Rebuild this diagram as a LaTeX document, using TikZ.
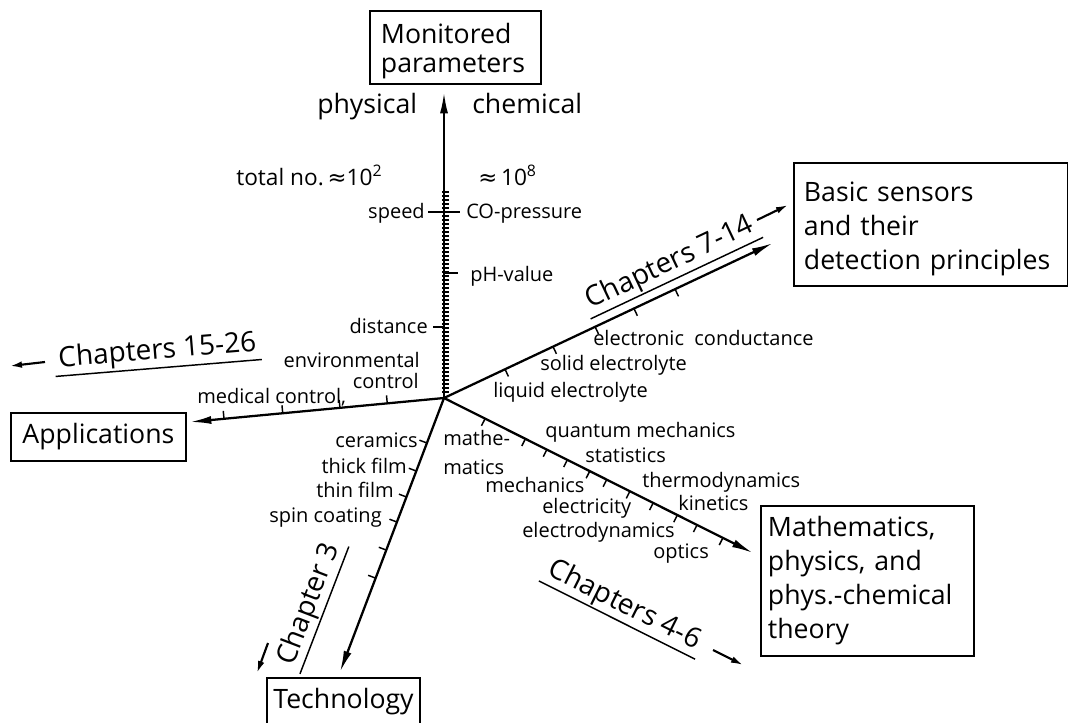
\documentclass[tikz,border=0pt]{standalone}
\usepackage{fontspec}
\setmainfont{Open Sans}
\newfontfamily\symfont{DejaVu Sans}
\usetikzlibrary{arrows.meta,calc}
\newcommand{\apx}{{\symfont ≈}}
\begin{document}
\begin{tikzpicture}[x=0.75pt,y=-0.75pt,
  axis/.style={line width=1.7pt,-{Latex[length=16pt,width=6pt]}},
  tk/.style={line width=1.1pt},
  finetick/.style={line width=0.8pt},
  box/.style={draw,line width=1.4pt,inner ysep=0pt},
  big/.style={font=\fontsize{20}{25.5}\selectfont},
  mid/.style={font=\fontsize{17}{20}\selectfont,inner sep=0pt},
  lab/.style={font=\fontsize{15}{19}\selectfont,inner sep=0pt},
  chap/.style={font=\fontsize{21}{24}\selectfont,inner xsep=3pt,inner ysep=1.5pt},
  uline/.style={line width=1.1pt},
  smallarrow/.style={line width=1.6pt,-{Latex[length=9pt,width=5pt]}},
]
\useasboundingbox (0,0) rectangle (1068,722);
\clip (0,0) rectangle (1068,722);
\fill[white] (0,0) rectangle (1068,722);

% boxes
\node[box,anchor=north west,minimum width=128.25pt,minimum height=54.75pt,
  text width=111.75pt,inner xsep=8.25pt,align=left,
  font=\fontsize{20}{22}\selectfont] (mon) at (369,10) {\rule{0pt}{21pt}Monitored\\parameters};
\node[box,big,anchor=north west,minimum width=205.5pt,minimum height=92.25pt,
  text width=190.5pt,inner xsep=7.5pt,align=left] (sens) at (793,162)
  {\rule{0pt}{22pt}Basic sensors\\and their\\detection principles};
\node[box,big,anchor=north west,minimum width=131.25pt,minimum height=36pt,
  inner xsep=0pt] (app) at (10,412) {Applications};
\node[box,big,anchor=north west,minimum width=159.75pt,minimum height=112.5pt,
  text width=149.25pt,inner xsep=5.25pt,align=left] (math) at (760,505)
  {Mathematics,\\physics, and\\phys.-chemical\\theory};
\node[box,big,anchor=north,minimum width=114.75pt,text height=23.25pt,
  text depth=15pt,inner xsep=0pt] (tech) at (343.5,677) {Technology};

% axes
\coordinate (O) at (444,398);
\coordinate (tU) at (444,92);
\coordinate (tA) at (190,422);
\coordinate (tS) at (773,243);
\coordinate (tM) at (753,553);
\coordinate (tT) at (340,672);
\draw[axis] (O) -- (tU);
\draw[axis] (O) -- (tA);
\draw[axis] (O) -- (tS);
\draw[axis] (O) -- (tM);
\draw[axis] (O) -- (tT);

% ticks
\foreach \y in {192,196,...,392} \draw[finetick] (442,\y) -- (449,\y);
\draw[tk] (428,212) -- (460,212);
\draw[tk] (444,273) -- (458,273);
\draw[tk] (433,327) -- (444,327);
\foreach \d in {42.75,78.4,121.5,165.75} {
  \coordinate (p) at ($(O)!\d pt!(tA)$);
  \draw[tk] (p) -- ($(p)!6pt!-90:(tA)$);}
\foreach \d in {50.6,90.4,125.3,157.5,191.6} {
  \coordinate (p) at ($(O)!\d pt!(tS)$);
  \draw[tk] (p) -- ($(p)!6pt!-90:(tS)$);}
\foreach \d in {34.5,68.3,86.3,103.5,122.3,136.5,156,175.5,195.8,212.3,234} {
  \coordinate (p) at ($(O)!\d pt!(tM)$);
  \draw[tk] (p) -- ($(p)!6pt!-90:(tM)$);}
\foreach \d in {36.1,58.6,79.4,99.5,122,144.5} {
  \coordinate (p) at ($(O)!\d pt!(tT)$);
  \draw[tk] (p) -- ($(p)!6pt!-90:(tT)$);}

% monitored parameters labels
\node[big,inner sep=0pt,anchor=base west] (phys) at (317,113) {physical};
\node[big,inner sep=0pt,anchor=base west] (chem) at (472,113) {chemical};
\node[mid,anchor=base west] (tot) at (236,185) {total no.\,\apx10\textsuperscript{2}};
\node[mid,anchor=base west] (tot8) at (478,185) {\apx\,10\textsuperscript{8}};
\node[lab,anchor=base east] (speed) at (425,218) {speed};
\node[lab,anchor=base west] (co) at (466,218) {CO-pressure};
\node[lab,anchor=base west] (ph) at (470,281) {pH-value};
\node[lab,anchor=base east] (dist) at (428,333) {distance};

% applications labels
\node[lab,anchor=base east] (env) at (420,367) {environmental};
\node[lab,anchor=base east] (envc) at (419,388) {control};
\node[lab,anchor=base west] (med) at (197,403) {medical control,};

% sensor labels
\node[lab,anchor=base west] (elc) at (593,345) {electronic\ \ conductance};
\node[lab,anchor=base west] (sol) at (540,370) {solid electrolyte};
\node[lab,anchor=base west] (liq) at (493,397) {liquid electrolyte};

% theory labels
\node[lab,anchor=north west,align=left,font=\fontsize{15}{22}\selectfont] (mth) at (443,430) {mathe-\\matics};
\node[lab,anchor=base west] (qm) at (545,437) {quantum mechanics};
\node[lab,anchor=base west] (st) at (585,462) {statistics};
\node[lab,anchor=base west] (td) at (642,487) {thermodynamics};
\node[lab,anchor=base west] (mech) at (485,492) {mechanics};
\node[lab,anchor=base west] (kin) at (678,510) {kinetics};
\node[lab,anchor=base west] (el) at (542,513) {electricity};
\node[lab,anchor=base west] (eld) at (522,537) {electrodynamics};
\node[lab,anchor=base west] (opt) at (653,558) {optics};

% technology labels
\node[lab,anchor=base east] (cer) at (418,447) {ceramics};
\node[lab,anchor=base east] (thick) at (407,473) {thick\ film};
\node[lab,anchor=base east] (thin) at (394,497) {thin film};
\node[lab,anchor=base east] (spin) at (382,522) {spin coating};

% chapter labels
\node[chap,anchor=base,rotate=4.7] (c1526) at (158,359) {Chapters 15-26};
\draw[uline] (c1526.south west) -- (c1526.south east);
\node[chap,anchor=base,rotate=25.3] (c714) at (673,270) {Chapters 7-14};
\draw[uline] (c714.south west) -- (c714.south east);
\node[chap,anchor=base,rotate=-26.6] (c46) at (621,612) {Chapters 4-6};
\draw[uline] (c46.south west) -- (c46.south east);
\node[chap,anchor=base,rotate=69] (c3) at (316,607) {Chapter 3};
\draw[uline] (c3.south west) -- (c3.south east);

% small arrows
\coordinate (a1s) at (45,362); \coordinate (a1e) at (10,366);
\draw[smallarrow] (a1s) -- (a1e);
\coordinate (a2s) at (757,220); \coordinate (a2e) at (788,205);
\draw[smallarrow] (a2s) -- (a2e);
\coordinate (a3s) at (713,650); \coordinate (a3e) at (743,665);
\draw[smallarrow] (a3s) -- (a3e);
\coordinate (a4s) at (268,643); \coordinate (a4e) at (257,673);
\draw[smallarrow] (a4s) -- (a4e);
\end{tikzpicture}
\end{document}
